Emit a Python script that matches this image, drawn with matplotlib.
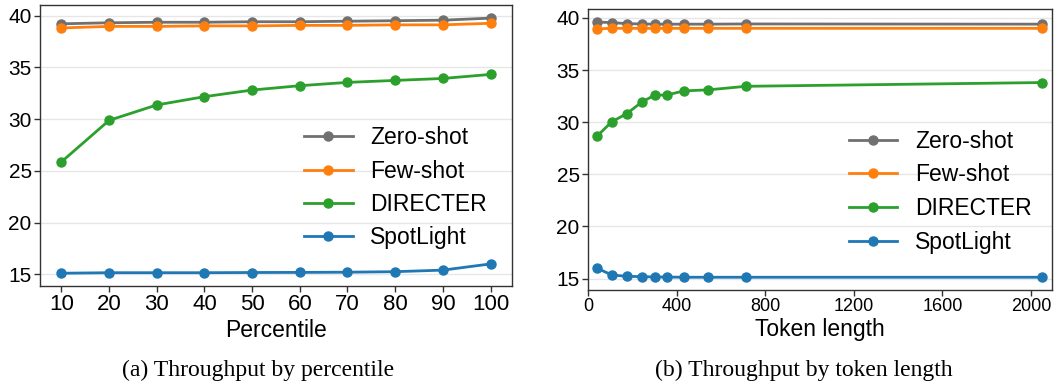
import matplotlib
matplotlib.use("Agg")
import matplotlib.pyplot as plt

plt.rcParams["font.family"] = ["Liberation Sans", "DejaVu Sans"]

# Throughput by percentile
percentiles = [10, 20, 30, 40, 50, 60, 70, 80, 90, 100]
pct_zero_shot = [39.2, 39.3, 39.35, 39.35, 39.4, 39.4, 39.45, 39.5, 39.55, 39.75]
pct_few_shot = [38.8, 38.95, 38.95, 39.0, 39.0, 39.05, 39.05, 39.1, 39.1, 39.25]
pct_directer = [25.86, 29.87, 31.36, 32.16, 32.8, 33.22, 33.54, 33.73, 33.92, 34.31]
pct_spotlight = [15.1, 15.15, 15.15, 15.15, 15.17, 15.18, 15.2, 15.25, 15.4, 16.0]

# Throughput by token length
token_lengths = [42, 107, 175, 242, 301, 355, 433, 543, 713, 2048]
tok_zero_shot = [39.6, 39.55, 39.45, 39.42, 39.4, 39.4, 39.4, 39.4, 39.42, 39.4]
tok_few_shot = [38.95, 39.0, 39.0, 39.0, 39.0, 39.0, 39.0, 39.0, 39.0, 39.0]
tok_directer = [28.69, 30.03, 30.82, 31.91, 32.6, 32.6, 33.0, 33.1, 33.44, 33.8]
tok_spotlight = [15.99, 15.35, 15.22, 15.19, 15.16, 15.15, 15.13, 15.13, 15.13, 15.13]

series_names = ["Zero-shot", "Few-shot", "DIRECTER", "SpotLight"]
series_colors = ["#707070", "#ff7f0e", "#2ca02c", "#1f77b4"]

fig = plt.figure(figsize=(10.6, 3.83), dpi=100)
ax1 = fig.add_axes([0.0377, 0.2533, 0.4453, 0.7327])
ax2 = fig.add_axes([0.5547, 0.2428, 0.4378, 0.7329])


def draw(ax, x, ys):
    for name, color, y in zip(series_names, series_colors, ys):
        ax.plot(x, y, color=color, marker="o", markersize=6.5, linewidth=2,
                label=name)
    ax.grid(axis="y", color="#e6e6e6", linewidth=1)
    ax.set_axisbelow(True)
    for s in ax.spines.values():
        s.set_color("#333333")
        s.set_linewidth(1.0)
    ax.tick_params(axis="both", direction="out", length=4, width=1,
                   color="#333333", pad=2)
    ax.set_yticks([15, 20, 25, 30, 35, 40])


draw(ax1, percentiles, [pct_zero_shot, pct_few_shot, pct_directer, pct_spotlight])
ax1.set_xticks(percentiles)
ax1.tick_params(axis="x", labelsize=16)
ax1.tick_params(axis="y", labelsize=15)
ax1.set_xlabel("Percentile", fontsize=16.5, labelpad=3)
ax1.legend(loc="center left", bbox_to_anchor=(0.559, 0.35), frameon=False,
           fontsize=16.5, borderpad=0, borderaxespad=0, handlelength=2.14,
           handletextpad=0.74, labelspacing=0.45)

draw(ax2, token_lengths, [tok_zero_shot, tok_few_shot, tok_directer, tok_spotlight])
ax2.set_xlim(0, 2095)
ax2.set_xticks([0, 400, 800, 1200, 1600, 2000])
ax2.tick_params(axis="x", labelsize=13)
ax2.tick_params(axis="y", labelsize=15)
ax2.set_xlabel("Token length", fontsize=16.5, labelpad=2)
ax2.legend(loc="center left", bbox_to_anchor=(0.5625, 0.35), frameon=False,
           fontsize=16.5, borderpad=0, borderaxespad=0, handlelength=2.1,
           handletextpad=0.78, labelspacing=0.47)

caption_font = ["Liberation Serif", "DejaVu Serif"]
fig.text(0.2436, 0.034, "(a) Throughput by percentile", ha="center",
         va="center", fontsize=17, family=caption_font)
fig.text(0.758, 0.034, "(b) Throughput by token length", ha="center",
         va="center", fontsize=17, family=caption_font)

fig.savefig("out.png", dpi=100)
